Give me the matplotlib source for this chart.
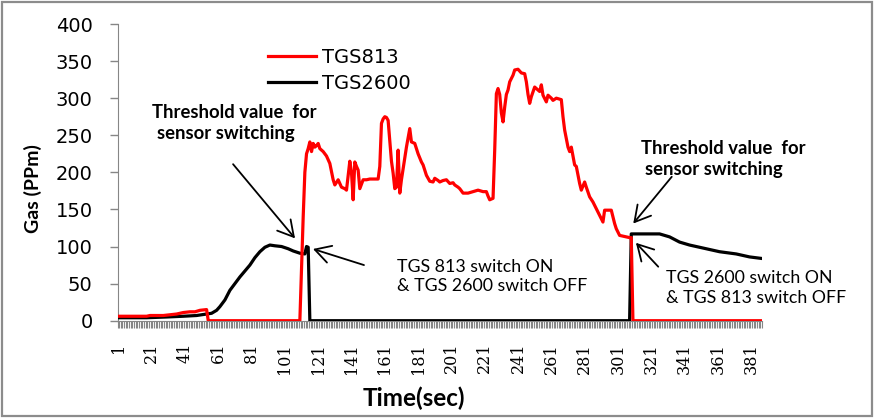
import matplotlib
matplotlib.use("Agg")
import matplotlib.pyplot as plt
from matplotlib.patches import Rectangle
from matplotlib.ticker import FixedLocator

# ---------------- data ----------------
n_points = 387

tgs813_t = [1, 18, 20, 28, 36, 40, 44, 47, 50, 54, 55, 110, 111, 112, 113, 114, 115, 116,
            117, 118, 119, 120, 121, 122, 124, 126, 128, 130, 131, 133, 135, 137, 138, 140,
            141, 142, 143, 144, 145, 146, 148, 150, 152, 155, 157, 158, 159, 160, 161, 162,
            163, 164, 165, 166, 167, 168, 169, 170, 171, 172, 174, 176, 177, 178, 179, 181,
            183, 184, 186, 188, 190, 191, 193, 194, 196, 198, 200, 202, 203, 205, 206, 208,
            211, 214, 217, 220, 222, 223, 224, 226, 227, 228, 229, 230, 231, 232, 233, 234,
            235, 236, 238, 239, 241, 243, 245, 246, 247, 248, 249, 251, 253, 254, 255, 256,
            258, 259, 261, 262, 264, 267, 268, 269, 271, 272, 273, 275, 276, 278, 279, 281,
            282, 284, 286, 288, 290, 292, 293, 295, 297, 299, 300, 302, 304, 306, 308, 309,
            310, 387]
tgs813_v = [6, 6, 7, 7, 9, 11, 12, 12, 14, 15, 0, 0, 70, 140, 200, 225, 232, 241,
            228, 239, 234, 236, 239, 232, 228, 222, 212, 190, 183, 190, 180, 178, 176, 215,
            200, 163, 214, 208, 203, 178, 190, 190, 191, 191, 191, 208, 266, 272, 275, 274,
            270, 243, 215, 199, 178, 180, 230, 172, 190, 205, 234, 259, 241, 240, 239, 225,
            214, 210, 196, 188, 187, 192, 189, 187, 189, 190, 185, 186, 183, 180, 178, 172,
            172, 174, 176, 174, 174, 168, 163, 165, 230, 306, 313, 305, 280, 268, 288, 305,
            311, 322, 331, 338, 339, 334, 333, 322, 305, 293, 302, 315, 311, 309, 318, 304,
            295, 304, 300, 297, 300, 298, 275, 257, 234, 228, 234, 210, 208, 185, 176, 187,
            180, 167, 160, 151, 142, 133, 149, 149, 149, 131, 124, 115, 114, 113, 112, 112,
            0, 0]

tgs2600_t = [1, 18, 30, 40, 48, 54, 57, 60, 62, 65, 68, 71, 74, 77, 80, 83, 86, 89, 92,
             95, 99, 103, 106, 110, 113, 114, 115, 116, 308, 309, 326, 332, 338, 344, 352,
             362, 372, 380, 387]
tgs2600_v = [4, 4, 5, 6, 7, 9, 10, 14, 19, 28, 41, 50, 59, 67, 75, 85, 93, 99, 102,
             101, 100, 97, 94, 91, 90, 100, 99, 0, 0, 117, 117, 113, 106, 102, 98,
             93, 90, 86, 84]

series_names = ["TGS813", "TGS2600"]
y_ticks = [0, 50, 100, 150, 200, 250, 300, 350, 400]
x_tick_labels = list(range(1, 382, 20))

# ---------------- figure ----------------
W, H = 877, 420
fig = plt.figure(figsize=(W / 100, H / 100), dpi=100)

def fx(px):
    return px / W

def fy(py):
    return 1 - py / H

ax_left, ax_right, ax_top, ax_bottom = 117.5, 762, 24, 320.7
ax = fig.add_axes([fx(ax_left), fy(ax_bottom), (ax_right - ax_left) / W, (ax_bottom - ax_top) / H])

gray = "#868686"
ax.plot(tgs2600_t, tgs2600_v, color="black", lw=2.3, label=series_names[1], zorder=3)
ax.plot(tgs813_t, tgs813_v, color="#ff0000", lw=2.3, label=series_names[0], zorder=4)

ax.set_xlim(0.5, n_points + 0.5)
ax.set_ylim(0, 400)

for s in ["top", "right"]:
    ax.spines[s].set_visible(False)
ax.spines["left"].set_color(gray)
ax.spines["bottom"].set_color(gray)

ax.set_yticks(y_ticks)
ax.set_yticklabels([str(v) for v in y_ticks], fontsize=14, family="DejaVu Sans")
ax.tick_params(axis="y", direction="out", length=6, width=1, color=gray, pad=12)

ax.set_xticks(x_tick_labels)
ax.set_xticklabels([str(v) for v in x_tick_labels], rotation=90, fontsize=11.5,
                   family="DejaVu Serif", va="top", ha="center")
ax.tick_params(axis="x", which="major", length=0, pad=16)
ax.xaxis.set_minor_locator(FixedLocator([i + 0.5 for i in range(0, n_points + 1)]))
ax.tick_params(axis="x", which="minor", direction="out", length=5, width=0.8, color=gray)

# axis titles
fig.text(fx(33), fy(189), "Gas (PPm)", rotation=90, ha="center", va="center",
         fontsize=14, fontweight="bold", family="Lato")
fig.text(fx(414), fy(398), "Time(sec)", ha="center", va="center",
         fontsize=17.5, fontweight="bold", family="Lato")

# legend
leg = ax.legend(handles=ax.get_lines()[::-1], loc="upper left",
                bbox_to_anchor=(fx(258), fy(38.5)), bbox_transform=fig.transFigure,
                frameon=False, fontsize=14, handlelength=2.5, handletextpad=0.3,
                labelspacing=0.35, borderpad=0)
for t in leg.get_texts():
    t.set_family("DejaVu Sans")

# annotations
thr_font = dict(family="Lato", fontsize=13.3, fontweight="bold")
sw_font = dict(family="Lato", fontsize=12.8)
fig.text(fx(234), fy(113), "Threshold value  for", ha="center", va="center", **thr_font)
fig.text(fx(226), fy(134), "sensor switching", ha="center", va="center", **thr_font)
fig.text(fx(641), fy(148), "Threshold value  for", ha="left", va="center", **thr_font)
fig.text(fx(645), fy(169), "sensor switching", ha="left", va="center", **thr_font)
fig.text(fx(397), fy(267), "TGS 813 switch ON", ha="left", va="center", **sw_font)
fig.text(fx(397), fy(286), "& TGS 2600 switch OFF", ha="left", va="center", **sw_font)
fig.text(fx(666), fy(278), "TGS 2600 switch ON", ha="left", va="center", **sw_font)
fig.text(fx(666), fy(298), "& TGS 813 switch OFF", ha="left", va="center", **sw_font)

arrow_kw = dict(arrowstyle="->,head_length=0.8,head_width=0.45", color="black", lw=1.3,
                mutation_scale=14, shrinkA=0, shrinkB=0)
arrows = [((69.9, 211), (107.1, 111)),
          ((148.5, 75), (117.9, 96.7)),
          ((333.3, 194), (310.2, 131)),
          ((325.2, 72.8), (311.8, 105))]
for start, tip in arrows:
    ax.annotate("", xy=tip, xytext=start, arrowprops=arrow_kw, annotation_clip=False)

# chart border
fig.patches.append(Rectangle((fx(2), fy(416)), fx(870), 414 / H, transform=fig.transFigure,
                             fill=False, edgecolor="#8c8c8c", lw=1.6))

fig.savefig("out.png", dpi=100)
